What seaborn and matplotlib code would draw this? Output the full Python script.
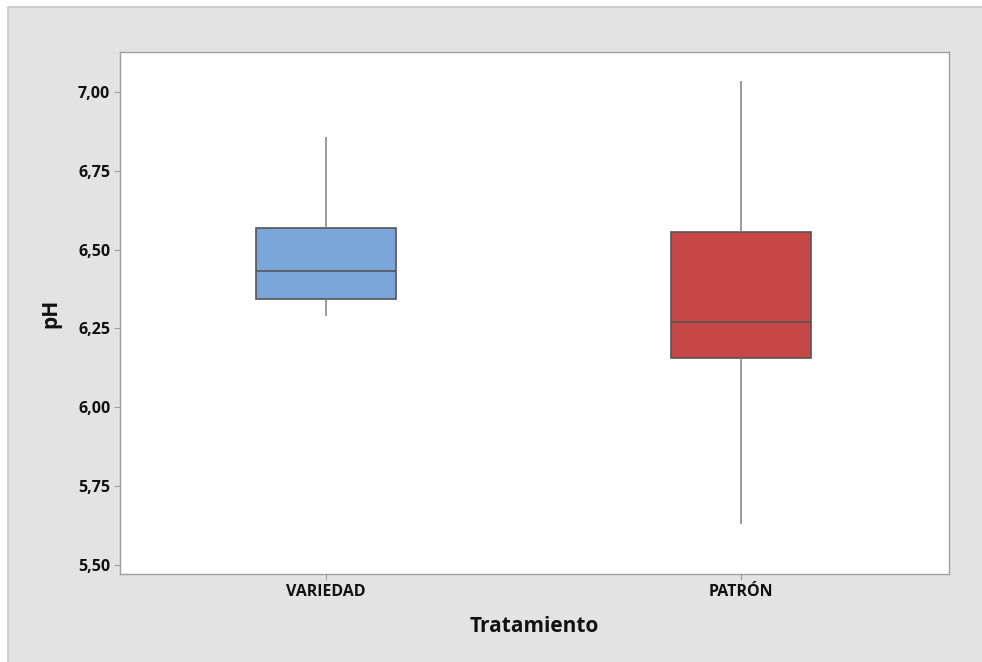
import matplotlib
matplotlib.use("Agg")
import matplotlib.pyplot as plt
from matplotlib.patches import Rectangle
import seaborn as sns
import pandas as pd

# Five-number summaries (min, Q1, median, Q3, max) of pH per treatment
categories = ["VARIEDAD", "PATRÓN"]
variedad_ph = [6.291, 6.342, 6.431, 6.568, 6.857]
patron_ph = [5.630, 6.155, 6.272, 6.555, 7.035]
yticks = [5.50, 5.75, 6.00, 6.25, 6.50, 6.75, 7.00]
box_colors = ["#7BA6D9", "#C74646"]

df = pd.DataFrame({
    "Tratamiento": [categories[0]] * len(variedad_ph) + [categories[1]] * len(patron_ph),
    "pH": variedad_ph + patron_ph,
})

sns.set_theme(style="white")
plt.rcParams["font.family"] = ["Open Sans", "DejaVu Sans"]

fig = plt.figure(figsize=(9.82, 6.62), dpi=100)
fig.patch.set_facecolor("white")
# grey panel behind the chart (its right and bottom edges run off the canvas)
fig.patches.append(Rectangle((8 / 982, -0.05), 1.1, 1.05 - 7 / 662, transform=fig.transFigure,
                             facecolor="#E3E3E3", edgecolor="#C8C8C8", linewidth=1.2,
                             zorder=-10))

ax = fig.add_axes([120 / 982, 1 - 574 / 662, (949 - 120) / 982, (574 - 52) / 662])
ax.set_facecolor("white")
ax.set_zorder(1)

sns.boxplot(data=df, x="Tratamiento", y="pH", hue="Tratamiento", palette=box_colors,
            order=categories, width=0.337, whis=1.5, showcaps=False, fliersize=0,
            linewidth=1.2, legend=False, saturation=1,
            boxprops=dict(edgecolor="#555555"),
            medianprops=dict(color="#555555", linewidth=1.2),
            whiskerprops=dict(color="#808080", linewidth=1.1),
            ax=ax)

ax.set_xlim(-0.495, 1.5)
ax.set_ylim(5.471, 7.127)
ax.set_yticks(yticks)
ax.set_yticklabels([f"{v:.2f}".replace(".", ",") for v in yticks])

for s in ax.spines.values():
    s.set_visible(True)
    s.set_color("#A0A0A0")
    s.set_linewidth(1.0)

ax.tick_params(axis="both", which="both", length=4, width=0.8, color="#A0A0A0",
               labelsize=11.5, labelcolor="#111111", pad=3, left=True, bottom=True)
for lbl in ax.get_xticklabels() + ax.get_yticklabels():
    lbl.set_fontweight("bold")

ax.set_xlabel("Tratamiento", fontsize=15, fontweight="bold", color="#111111", labelpad=12)
ax.set_ylabel("pH", fontsize=15, fontweight="bold", color="#111111", labelpad=12)

fig.savefig("out.png", dpi=100)
